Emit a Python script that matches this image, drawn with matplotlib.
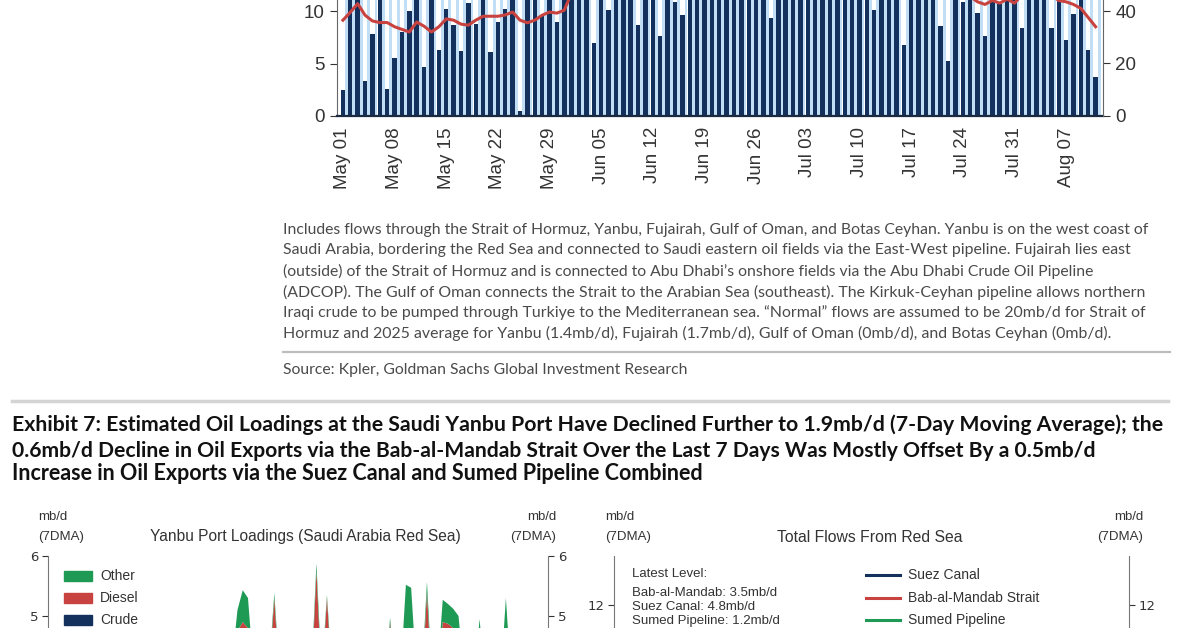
import matplotlib
matplotlib.use('Agg')
import matplotlib.pyplot as plt
import pandas as pd
from matplotlib.patches import Rectangle
from matplotlib.lines import Line2D

W, H = 1200, 628

# ---- Exhibit 6 (top, cropped): daily flows in mb/d, May 01 - Aug 11
dates = pd.date_range('2025-05-01', '2025-08-11', freq='D')
flows_actual = [2.5, 13.2, 14.0, 3.3, 7.8, 12.6, 2.6, 5.5, 8.0, 10.0,
                12.4, 4.7, 13.0, 6.3, 10.2, 8.7, 6.2, 10.8, 8.8, 12.1,
                6.1, 9.0, 10.2, 12.9, 0.5, 13.4, 12.7, 9.6, 13.1, 9.0,
                14.2, 13.6, 12.8, 14.5, 7.0, 13.9, 10.1, 14.8, 13.5, 12.9,
                8.7, 14.1, 13.3, 7.6, 13.8, 10.9, 9.6, 14.0, 13.2, 12.6,
                14.3, 13.7, 12.9, 13.5, 14.1, 12.8, 13.4, 12.7, 9.3, 13.6,
                14.2, 13.0, 12.5, 13.8, 14.4, 13.1, 12.6, 13.9, 14.0, 12.8,
                13.3, 12.4, 10.1, 13.5, 12.2, 11.8, 6.8, 12.6, 13.1, 12.3,
                11.9, 8.55, 5.25, 12.1, 10.85, 11.6, 9.8, 7.6, 11.5, 10.7,
                11.8, 11.4, 8.4, 12.0, 11.6, 11.3, 8.4, 11.5, 7.2, 9.75,
                11.2, 6.3, 3.7]
flows_normal = [23.1] * len(dates)   # 20 + 1.4 + 1.7 + 0 + 0
pct_of_normal = [36.5, 39.5, 42.8, 38.4, 36.2, 35.6, 35.6, 34.0, 33.0, 32.0,
                 35.8, 34.2, 32.0, 34.0, 37.0, 36.5, 35.0, 34.6, 36.5, 38.0,
                 38.0, 38.0, 38.5, 39.6, 36.5, 35.5, 36.5, 38.4, 39.6, 39.2,
                 40.3, 47.0, 50.0, 52.0, 51.0, 53.0, 55.0, 54.0, 56.0, 55.0,
                 54.0, 53.0, 55.0, 56.0, 57.0, 56.0, 55.0, 57.0, 58.0, 59.0,
                 58.0, 57.0, 58.0, 59.0, 60.0, 59.0, 58.0, 57.0, 56.0, 57.0,
                 58.0, 59.0, 58.0, 57.0, 56.0, 57.0, 58.0, 57.0, 56.0, 55.0,
                 54.0, 53.0, 54.0, 53.0, 52.0, 51.0, 50.0, 51.0, 50.0, 49.0,
                 48.0, 47.0, 46.5, 46.0, 45.0, 45.5, 43.5, 42.5, 44.0, 43.0,
                 44.5, 43.0, 46.0, 47.0, 46.0, 45.0, 46.0, 44.0, 43.5, 42.5,
                 41.0, 37.5, 34.0]

# ---- Exhibit 7 left: Yanbu port loadings, mb/d 7DMA (stacked)
yanbu_crude = [3.9, 3.8, 3.6, 3.7, 4.0, 4.1, 3.9, 3.7, 3.5, 3.6,
               3.8, 4.0, 4.2, 4.1, 3.9, 3.8, 3.7, 3.9, 4.1, 4.0,
               3.8, 3.6, 3.5, 3.7, 3.9, 4.0, 4.1, 3.9, 3.8, 3.7,
               3.9, 4.0, 4.1, 4.0, 3.9, 3.8, 4.4, 4.45, 4.4, 3.7,
               3.8, 3.9, 3.7, 4.5, 3.6, 3.9, 3.8, 3.9, 4.0, 4.1,
               3.5, 4.6, 3.6, 4.5, 3.6, 4.0, 3.9, 3.8, 3.7, 3.9,
               4.0, 4.1, 4.0, 3.9, 3.5, 4.4, 3.5, 3.6, 4.4, 4.35,
               3.6, 3.5, 4.5, 3.5, 3.6, 4.3, 4.25, 4.2, 4.2, 3.6,
               3.9, 3.5, 4.3, 3.5, 3.9, 4.0, 3.5, 4.3, 3.5, 3.9,
               3.8, 3.7, 3.8, 3.9, 3.8, 3.7]
yanbu_diesel = [0.3, 0.3, 0.25, 0.3, 0.3, 0.3, 0.3, 0.25, 0.25, 0.3,
                0.3, 0.3, 0.3, 0.3, 0.3, 0.3, 0.25, 0.3, 0.3, 0.3,
                0.3, 0.25, 0.25, 0.3, 0.3, 0.3, 0.3, 0.3, 0.3, 0.3,
                0.3, 0.3, 0.3, 0.3, 0.3, 0.3, 0.35, 0.45, 0.4, 0.3,
                0.3, 0.3, 0.3, 0.8, 0.3, 0.3, 0.3, 0.3, 0.3, 0.3,
                0.3, 1.15, 0.3, 0.8, 0.3, 0.3, 0.3, 0.3, 0.3, 0.3,
                0.3, 0.3, 0.3, 0.3, 0.3, 0.5, 0.3, 0.3, 0.3, 0.3,
                0.3, 0.3, 0.9, 0.3, 0.3, 0.6, 0.62, 0.6, 0.5, 0.3,
                0.3, 0.3, 0.5, 0.3, 0.3, 0.3, 0.3, 0.4, 0.3, 0.3,
                0.3, 0.3, 0.3, 0.3, 0.3, 0.3]
yanbu_other = [0.15, 0.15, 0.15, 0.15, 0.15, 0.15, 0.15, 0.15, 0.15, 0.15,
               0.15, 0.15, 0.15, 0.15, 0.15, 0.15, 0.15, 0.15, 0.15, 0.15,
               0.15, 0.15, 0.15, 0.15, 0.15, 0.15, 0.15, 0.15, 0.15, 0.15,
               0.15, 0.15, 0.15, 0.15, 0.15, 0.15, 0.35, 0.53, 0.5, 0.15,
               0.15, 0.15, 0.15, 0.08, 0.15, 0.15, 0.15, 0.15, 0.15, 0.15,
               0.15, 0.13, 0.15, 0.05, 0.15, 0.15, 0.15, 0.15, 0.15, 0.15,
               0.15, 0.15, 0.15, 0.15, 0.15, 0.07, 0.15, 0.15, 0.82, 0.82,
               0.15, 0.15, 0.17, 0.15, 0.15, 0.37, 0.33, 0.32, 0.3, 0.15,
               0.15, 0.15, 0.15, 0.15, 0.15, 0.15, 0.15, 0.6, 0.15, 0.15,
               0.15, 0.15, 0.15, 0.15, 0.15, 0.15]

caption_lines = [
    "Includes flows through the Strait of Hormuz, Yanbu, Fujairah, Gulf of Oman, and Botas Ceyhan. Yanbu is on the west coast of",
    "Saudi Arabia, bordering the Red Sea and connected to Saudi eastern oil fields via the East-West pipeline. Fujairah lies east",
    "(outside) of the Strait of Hormuz and is connected to Abu Dhabi\u2019s onshore fields via the Abu Dhabi Crude Oil Pipeline",
    "(ADCOP). The Gulf of Oman connects the Strait to the Arabian Sea (southeast). The Kirkuk-Ceyhan pipeline allows northern",
    "Iraqi crude to be pumped through Turkiye to the Mediterranean sea. \u201cNormal\u201d flows are assumed to be 20mb/d for Strait of",
    "Hormuz and 2025 average for Yanbu (1.4mb/d), Fujairah (1.7mb/d), Gulf of Oman (0mb/d), and Botas Ceyhan (0mb/d).",
]
source_line = "Source: Kpler, Goldman Sachs Global Investment Research"
title_lines = [
    "Exhibit 7: Estimated Oil Loadings at the Saudi Yanbu Port Have Declined Further to 1.9mb/d (7-Day Moving Average); the",
    "0.6mb/d Decline in Oil Exports via the Bab-al-Mandab Strait Over the Last 7 Days Was Mostly Offset By a 0.5mb/d",
    "Increase in Oil Exports via the Suez Canal and Sumed Pipeline Combined",
]
latest_lines = ["Latest Level:", "Bab-al-Mandab: 3.5mb/d", "Suez Canal: 4.8mb/d", "Sumed Pipeline: 1.2mb/d"]
yanbu_labels = ["Other", "Diesel", "Crude"]
redsea_labels = ["Suez Canal", "Bab-al-Mandab Strait", "Sumed Pipeline"]

NAVY = '#13315c'
LIGHT = '#c2def5'
RED = '#c8433f'
GREEN = '#1e9a55'

fig = plt.figure(figsize=(W / 100, H / 100), dpi=100)
fig.patch.set_facecolor('white')
rend = fig.canvas.get_renderer()


def rect(x0, y0, x1, y1):
    return [x0 / W, 1 - y1 / H, (x1 - x0) / W, (y1 - y0) / H]


def put(s, x, y, size, ha='left', fit=None, **kw):
    t = fig.text(x / W, 1 - y / H, s, fontsize=size, ha=ha, va='center', **kw)
    if fit:
        w = t.get_window_extent(renderer=rend).width
        t.set_fontsize(size * fit / w)
    return t


def hline(x0, x1, y, color, lw):
    fig.add_artist(Line2D([x0 / W, x1 / W], [1 - y / H, 1 - y / H], color=color, lw=lw,
                          transform=fig.transFigure))


def side_axis(ax, ticks, side):
    ax.set_yticks(ticks)
    ax.tick_params(axis='y', labelsize=9.5, colors='#333333', length=4, pad=3)
    for s in ['top', 'right', 'left', 'bottom']:
        ax.spines[s].set_visible(s == side)
    ax.spines[side].set_color('#777777')
    ax.set_xticks([])


# ---------------- top chart ----------------
ax = fig.add_axes(rect(337, -146.5, 1103, 116))
n = len(dates)
xs = list(range(n))
ax.bar([i - 0.3 for i in xs], flows_actual, width=0.6, align='edge', color=NAVY, linewidth=0)
ax.bar([i + 0.3 for i in xs], flows_normal, width=0.38, align='edge', color=LIGHT, linewidth=0)
ax.set_xlim(-0.8, 103.0)
ax.set_ylim(0, 25)
ax.set_yticks([0, 5, 10])
ax.set_xticks(xs[::7])
ax.set_xticklabels([d.strftime('%b %d') for d in dates[::7]], rotation=90,
                   fontsize=13.5, family='Liberation Sans', color='#333333')
ax.tick_params(axis='x', length=0, pad=8)
ax.tick_params(axis='y', labelsize=13.5, colors='#333333', length=5, pad=4, direction='out')
for lab in ax.get_yticklabels():
    lab.set_family('Liberation Sans')
ax.spines['top'].set_visible(False)
ax.spines['right'].set_visible(False)
ax.spines['left'].set_color('#666666')
ax.spines['bottom'].set_color('#1a2a40')
ax.spines['bottom'].set_linewidth(1.6)

ax2 = ax.twinx()
ax2.plot(xs, pct_of_normal, color=RED, lw=2.2, solid_joinstyle='round')
ax2.set_ylim(0, 100)
ax2.set_yticks([0, 20, 40])
ax2.tick_params(axis='y', labelsize=13.5, colors='#333333', length=5, pad=4)
for lab in ax2.get_yticklabels():
    lab.set_family('Liberation Sans')
for s in ['top', 'left', 'bottom']:
    ax2.spines[s].set_visible(False)
ax2.spines['right'].set_color('#666666')

# caption + source
cap_y = [230, 250, 271, 292, 313, 333]
cap_end = [1148, 1133, 1100, 1145, 1147, 1115]
for s, y, x1 in zip(caption_lines, cap_y, cap_end):
    put(s, 283, y, 9, fit=x1 - 283, family='Lato', color='#4a4a4a')
hline(283, 1170, 352, '#bdbdbd', 1.6)
put(source_line, 283, 370, 9, fit=688 - 283, family='Lato', color='#4a4a4a')
hline(12, 1168, 401, '#d4d4d4', 2.5)

# exhibit 7 title
tit_y = [425, 451, 474]
tit_end = [1160, 1093, 700]
for s, y, x1 in zip(title_lines, tit_y, tit_end):
    put(s, 12, y, 12, fit=x1 - 12, family='Lato', weight='bold', color='#111111')

# ---------------- bottom-left: Yanbu ----------------
bl = fig.add_axes(rect(48, 556, 548, 916))
bx = list(range(len(yanbu_crude)))
bl.stackplot(bx, yanbu_crude, yanbu_diesel, yanbu_other, colors=[NAVY, RED, GREEN], lw=0)
bl.set_xlim(0, 95)
bl.set_ylim(0, 6)
side_axis(bl, [5, 6], 'left')
bl2 = bl.twinx()
bl2.set_ylim(0, 6)
side_axis(bl2, [5, 6], 'right')

txt = dict(family='Liberation Sans', color='#333333')
put("mb/d", 38, 517, 9.5, **txt)
put("(7DMA)", 38, 537, 9.5, **txt)
put("Yanbu Port Loadings (Saudi Arabia Red Sea)", 150, 537, 10, fit=312, **txt)
put("mb/d", 556, 517, 9.5, ha='right', **txt)
put("(7DMA)", 556, 537, 9.5, ha='right', **txt)
for lab, col, y in zip(yanbu_labels, [GREEN, RED, NAVY], [576, 598, 620]):
    fig.add_artist(Rectangle((64 / W, 1 - (y + 5) / H), 28 / W, 10 / H, color=col,
                             transform=fig.transFigure))
    put(lab, 100, y, 10, **txt)

# ---------------- bottom-right: Red Sea flows ----------------
br = fig.add_axes(rect(614, 556, 1129, 899))
br.set_xlim(0, 1)
br.set_ylim(0, 14)
side_axis(br, [12], 'left')
br2 = br.twinx()
br2.set_ylim(0, 14)
side_axis(br2, [12], 'right')

put("mb/d", 605, 517, 9.5, **txt)
put("(7DMA)", 605, 537, 9.5, **txt)
put("Total Flows From Red Sea", 777, 537, 10, fit=186, **txt)
put("mb/d", 1143, 517, 9.5, ha='right', **txt)
put("(7DMA)", 1143, 537, 9.5, ha='right', **txt)
for s, y in zip(latest_lines, [574, 593, 607, 621]):
    put(s, 632, y, 9.5, **txt)
for lab, col, y in zip(redsea_labels, [NAVY, RED, GREEN], [575, 598, 620]):
    fig.add_artist(Line2D([866 / W, 900 / W], [1 - y / H, 1 - y / H], color=col, lw=2.2,
                          transform=fig.transFigure))
    put(lab, 908, y, 10, **txt)

fig.savefig('out.png', dpi=100)
